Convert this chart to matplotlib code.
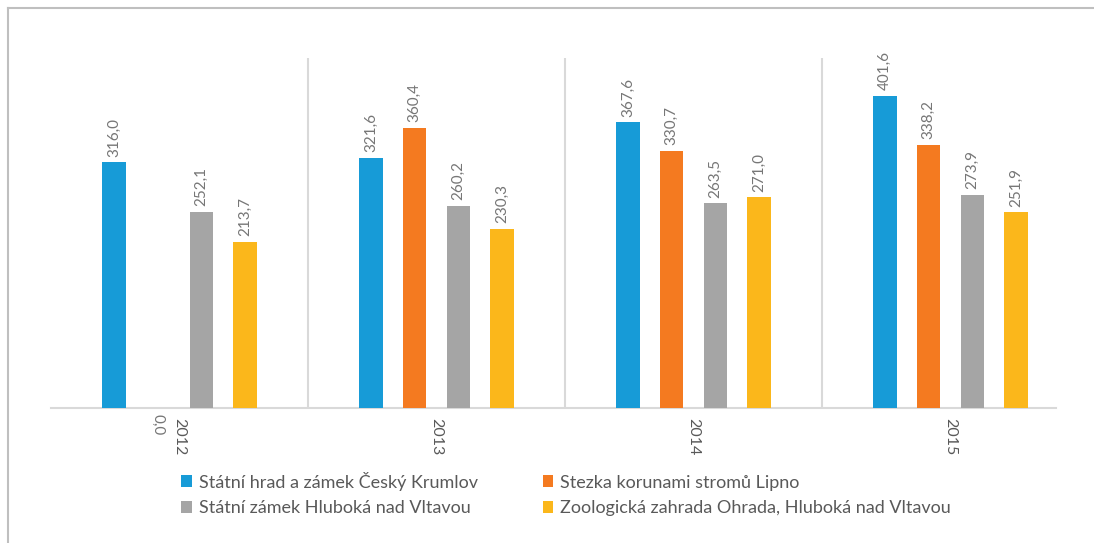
import matplotlib
matplotlib.use("Agg")
import matplotlib.pyplot as plt
import numpy as np

years = ["2012", "2013", "2014", "2015"]
series_names = [
    "Státní hrad a zámek Český Krumlov",
    "Stezka korunami stromů Lipno",
    "Státní zámek Hluboká nad Vltavou",
    "Zoologická zahrada Ohrada, Hluboká nad Vltavou",
]
krumlov = [316.0, 321.6, 367.6, 401.6]
lipno = [0.0, 360.4, 330.7, 338.2]
hluboka = [252.1, 260.2, 263.5, 273.9]
zoo = [213.7, 230.3, 271.0, 251.9]
colors = ["#179BD7", "#F47A20", "#A5A5A5", "#FBB71B"]

plt.rcParams['font.family'] = ['Lato', 'DejaVu Sans']
txt = "#595959"
vtxt = "#767676"

fig = plt.figure(figsize=(10.94, 5.43), dpi=100)
ax = fig.add_axes([51/1094, 135/543, (1079-51)/1094, 350/543])

x = np.arange(len(years))
pitch = 0.17
width = 0.09
all_series = [krumlov, lipno, hluboka, zoo]
bars = []
for i, (vals, c, name) in enumerate(zip(all_series, colors, series_names)):
    pos = x + (i - 1.5) * pitch
    b = ax.bar(pos, vals, width=width, color=c, label=name, zorder=3)
    bars.append(b)
    for p, v in zip(pos, vals):
        s = f"{v:.1f}".replace(".", ",")
        if v > 0:
            ax.annotate(s, (p, v), xytext=(0, 4), textcoords="offset points",
                        rotation=90, ha="center", va="bottom", fontsize=11, color=vtxt)
        else:
            ax.annotate(s, (p, v), xytext=(0, -4), textcoords="offset points",
                        rotation=-90, ha="center", va="top", fontsize=11, color=vtxt)

ax.set_xlim(-0.5, len(years) - 0.5)
ax.set_ylim(0, 450)
for b in x[:-1] + 0.5:
    ax.axvline(b, color="#D9D9D9", lw=1.5, zorder=1)
for s in ["top", "left", "right"]:
    ax.spines[s].set_visible(False)
ax.spines["bottom"].set_color("#D9D9D9")
ax.spines["bottom"].set_linewidth(1.5)
ax.spines["bottom"].set_bounds(-0.5, -0.5 + (1056 - 51) / 257)
ax.set_yticks([])
ax.set_xticks(x)
ax.set_xticklabels(years, rotation=-90, fontsize=11.5, color=txt)
ax.tick_params(axis="x", length=0, pad=7)

order = [0, 2, 1, 3]
leg = fig.legend([bars[i] for i in order], [series_names[i] for i in order],
                 loc="center", bbox_to_anchor=(566/1094, 1 - 494/543), ncol=2,
                 frameon=False, fontsize=13, handlelength=0.6, handleheight=0.6,
                 handletextpad=0.35, columnspacing=3.6, labelspacing=0.55,
                 labelcolor=txt)

# outer frame (top and left visible)
fig.add_artist(plt.Line2D([8/1094, 8/1094], [0, 1 - 8/543], color="#BFBFBF", lw=1.5))
fig.add_artist(plt.Line2D([8/1094, 1], [1 - 8/543, 1 - 8/543], color="#BFBFBF", lw=1.5))

fig.savefig("out.png", dpi=100)
